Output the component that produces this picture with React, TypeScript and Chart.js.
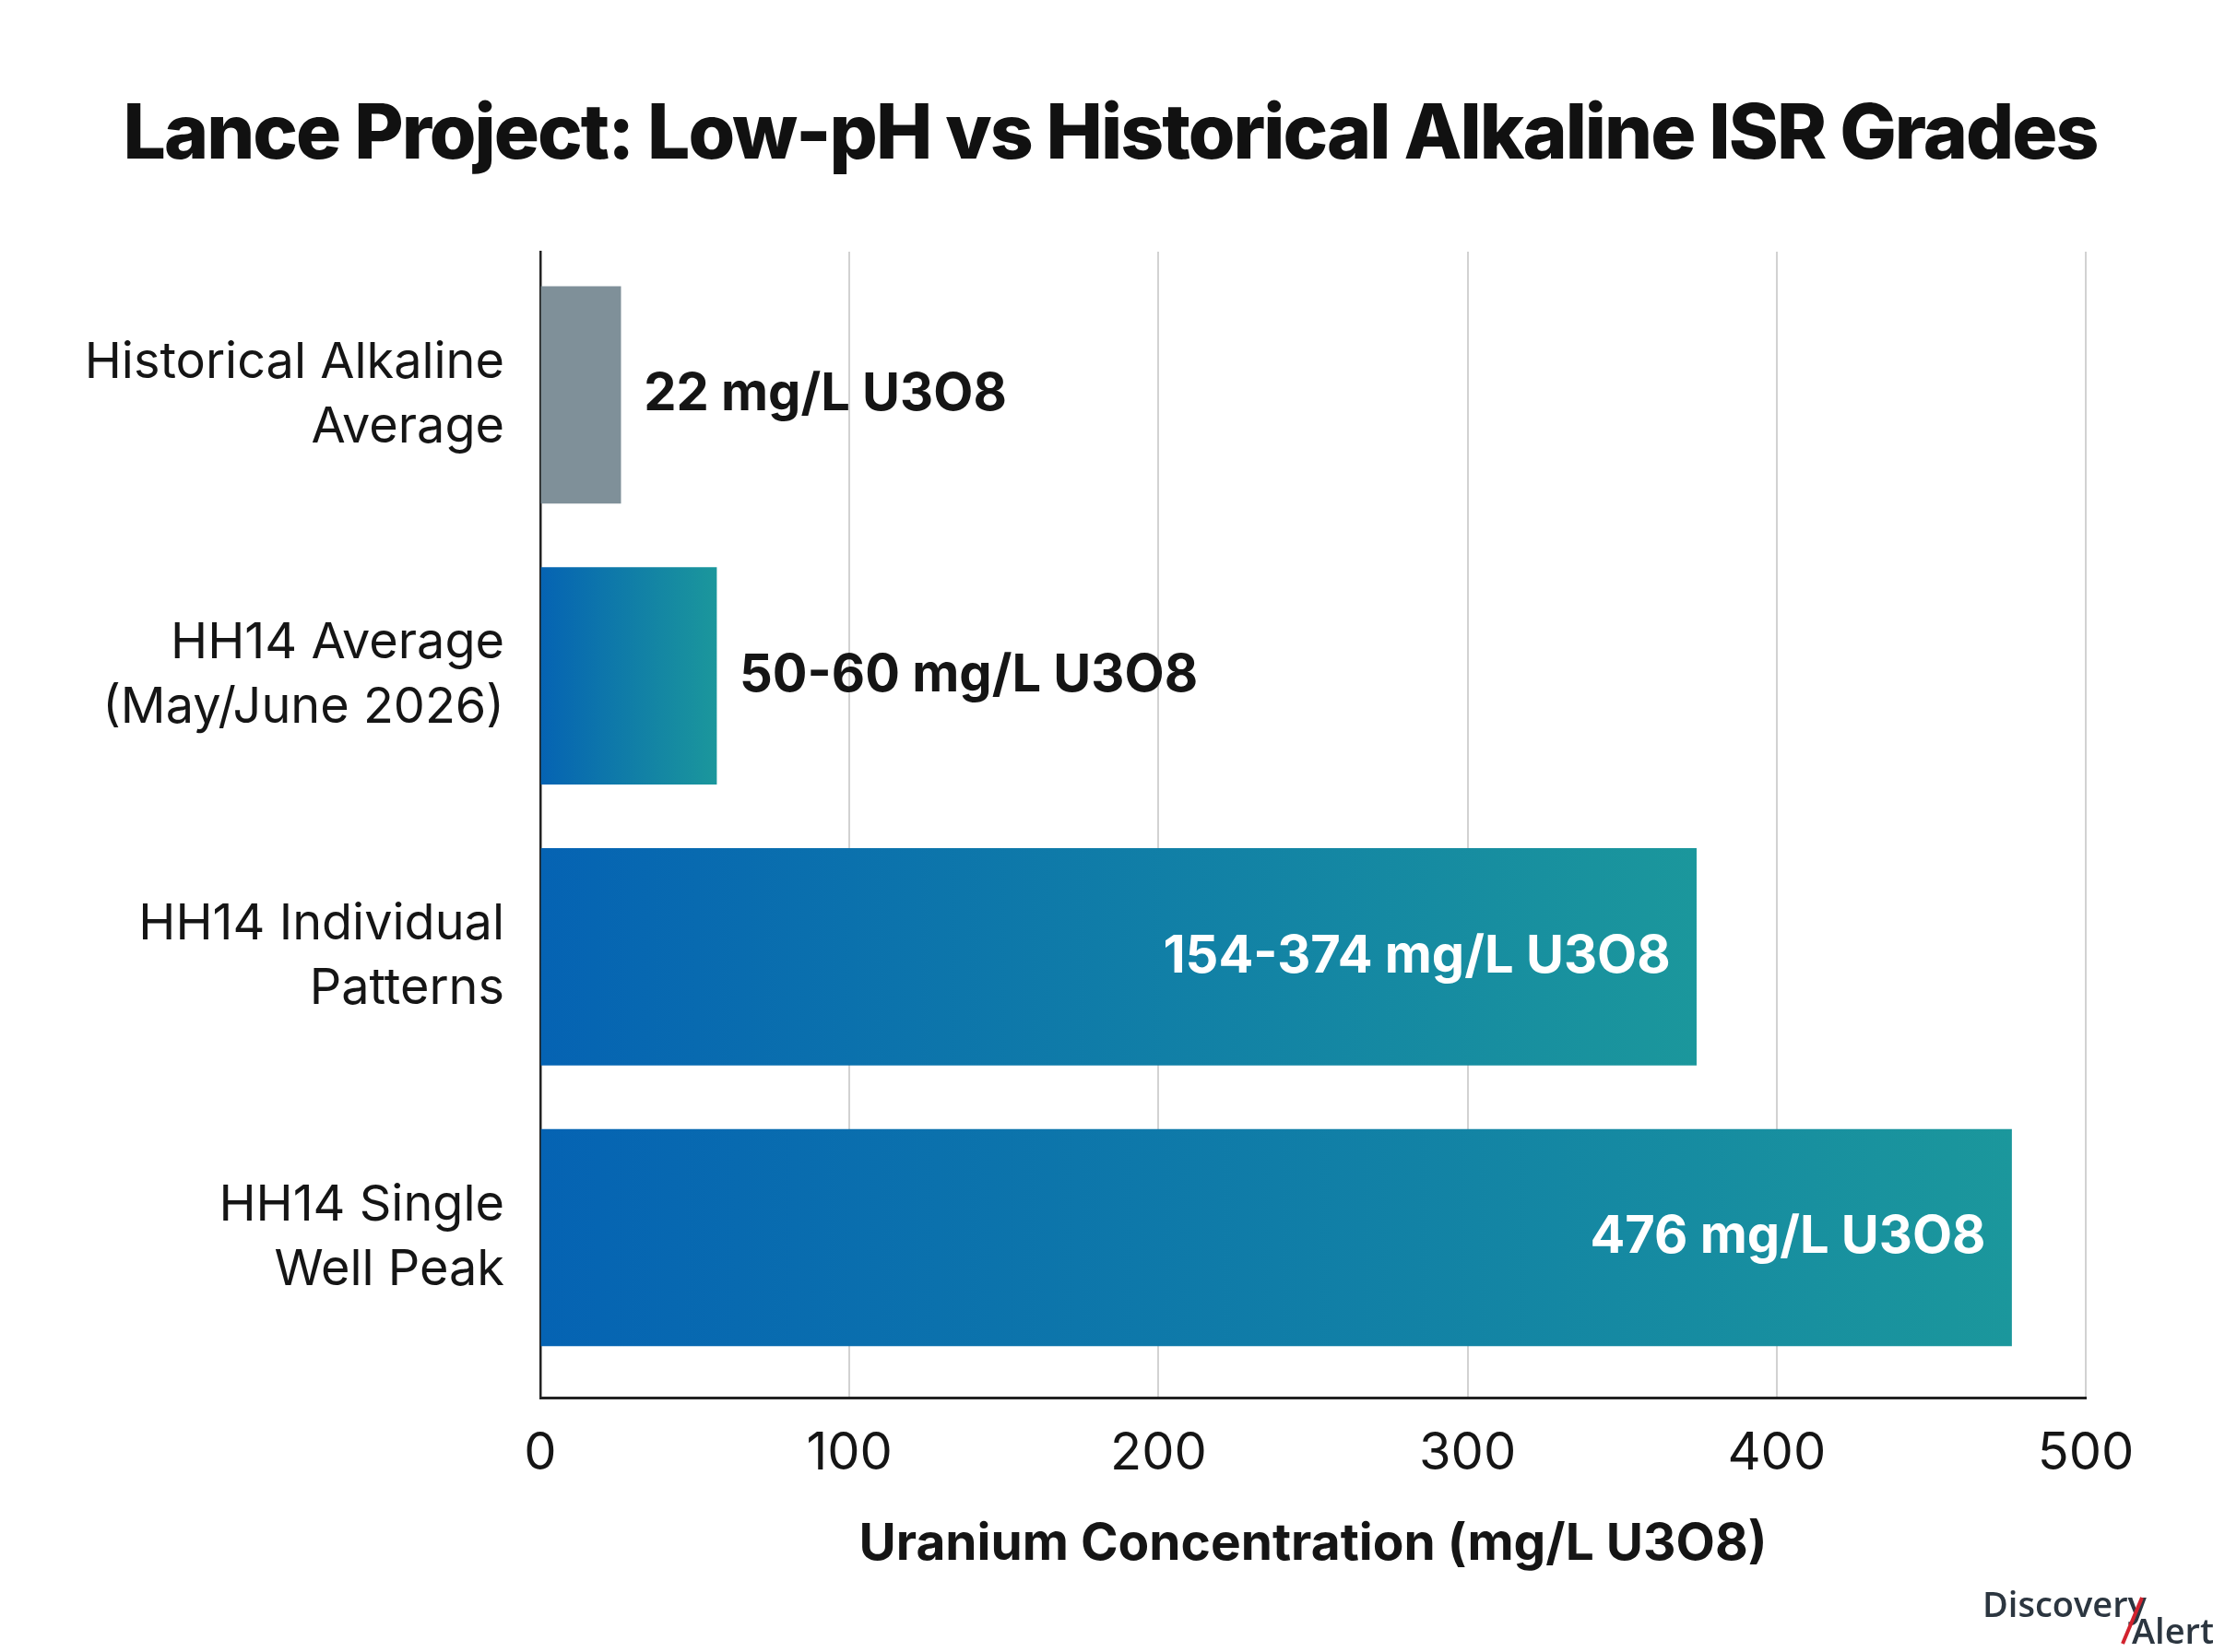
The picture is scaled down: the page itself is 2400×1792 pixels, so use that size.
import { useEffect, useRef } from 'react';
import { Chart, registerables } from 'chart.js';

Chart.register(...registerables);

const TITLE = 'Lance Project: Low-pH vs Historical Alkaline ISR Grades';
const AXIS_TITLE = 'Uranium Concentration (mg/L U3O8)';

// one entry per bar, top to bottom
const categories = [
  ['Historical Alkaline', 'Average'],
  ['HH14 Average', '(May/June 2026)'],
  ['HH14 Individual', 'Patterns'],
  ['HH14 Single', 'Well Peak'],
];
const values = [26, 57, 374, 476];
const valueLabels = ['22 mg/L U3O8', '50-60 mg/L U3O8', '154-374 mg/L U3O8', '476 mg/L U3O8'];
const xTicks = [0, 100, 200, 300, 400, 500];

const FONT = 'Inter, "Noto Sans", sans-serif';
const GRAY = '#7f9099';
const BLUE = '#0563b3';
const TEAL = '#1b979c';

// title drawn by hand so it can be tightened like the original
const titlePlugin = {
  id: 'bigTitle',
  afterDraw(chart: any) {
    const ctx = chart.ctx;
    ctx.save();
    ctx.fillStyle = '#111111';
    ctx.font = `800 82px ${FONT}`;
    (ctx as any).letterSpacing = '-2px';
    ctx.textAlign = 'center';
    ctx.textBaseline = 'alphabetic';
    ctx.fillText(TITLE, 1204, 172);
    ctx.restore();
  },
};

const valueLabelPlugin = {
  id: 'valueLabels',
  afterDatasetsDraw(chart: any) {
    const ctx = chart.ctx;
    const meta = chart.getDatasetMeta(0);
    ctx.save();
    ctx.font = `700 56px ${FONT}`;
    ctx.textBaseline = 'middle';
    meta.data.forEach((bar: any, i: number) => {
      const text = valueLabels[i];
      const w = ctx.measureText(text).width;
      const len = bar.x - bar.base;
      if (w + 60 < len) {
        ctx.fillStyle = '#ffffff';
        ctx.textAlign = 'right';
        ctx.fillText(text, bar.x - 28, bar.y);
      } else {
        ctx.fillStyle = '#151515';
        ctx.textAlign = 'left';
        ctx.fillText(text, bar.x + 25, bar.y);
      }
    });
    ctx.restore();
  },
};

const logoPlugin = {
  id: 'logo',
  afterDraw(chart: any) {
    const ctx = chart.ctx;
    ctx.save();
    ctx.fillStyle = '#2c3640';
    ctx.textBaseline = 'alphabetic';
    ctx.textAlign = 'left';
    ctx.font = `600 38px "Open Sans", sans-serif`;
    ctx.fillText('Discovery', 2150, 1754);
    ctx.fillText('Alert', 2312, 1783);
    ctx.strokeStyle = '#d2232e';
    ctx.lineWidth = 4;
    ctx.beginPath();
    ctx.moveTo(2323, 1733);
    ctx.lineTo(2302, 1783);
    ctx.stroke();
    ctx.restore();
  },
};

const App = () => {
  const canvasRef = useRef<HTMLCanvasElement | null>(null);

  useEffect(() => {
    if (!canvasRef.current) return;
    const chart = new Chart(canvasRef.current, {
      type: 'bar',
      data: {
        datasets: [
          {
            data: values.map((v, i) => ({ x: v, y: i })),
            barThickness: 235,
            borderWidth: 0,
            backgroundColor: (c: any) => {
              if (c.dataIndex === 0) return GRAY;
              const chartArea = c.chart.chartArea;
              if (!chartArea) return BLUE;
              const xs = c.chart.scales.x;
              const x0 = xs.getPixelForValue(0);
              const x1 = xs.getPixelForValue(values[c.dataIndex]);
              const g = c.chart.ctx.createLinearGradient(x0, 0, x1, 0);
              g.addColorStop(0, BLUE);
              g.addColorStop(1, TEAL);
              return g;
            },
          },
        ],
      },
      options: {
        indexAxis: 'y',
        animation: false,
        responsive: true,
        maintainAspectRatio: false,
        devicePixelRatio: 1,
        layout: { padding: { left: 0, right: 138, top: 273, bottom: 0 } },
        plugins: {
          legend: { display: false },
          tooltip: { enabled: false },
          title: { display: false },
        },
        scales: {
          x: {
            type: 'linear',
            min: 0,
            max: 500,
            afterBuildTicks: (scale: any) => {
              scale.ticks = xTicks.map((v) => ({ value: v }));
            },
            grid: { color: '#d2d2d2', lineWidth: 2, drawTicks: false },
            border: { color: '#222222', width: 3 },
            ticks: {
              color: '#151515',
              padding: 27,
              font: { family: FONT, size: 56, lineHeight: 1.2 },
            },
            title: {
              display: true,
              text: AXIS_TITLE,
              color: '#151515',
              font: { family: FONT, size: 55, weight: 'bold', lineHeight: 1.2 },
              padding: { top: 4, bottom: 84 },
            },
          },
          y: {
            type: 'linear',
            reverse: true,
            offset: false,
            bounds: 'data',
            min: -0.51,
            max: 3.572,
            afterBuildTicks: (scale: any) => {
              scale.ticks = categories.map((_, i) => ({ value: i }));
            },
            afterFit: (scale: any) => {
              scale.width = 586;
            },
            grid: { display: false, drawTicks: false, offset: false },
            border: { color: '#222222', width: 2.5 },
            ticks: {
              color: '#151515',
              padding: 39,
              font: { family: FONT, size: 54, lineHeight: 1.3 },
              callback: (v: any) => categories[v] ?? '',
            },
          },
        },
      },
      plugins: [valueLabelPlugin, titlePlugin, logoPlugin],
    } as any);

    return () => {
      chart.destroy();
    };
  }, []);

  return (
    <div style={{ position: 'absolute', left: 0, top: 0, width: 2400, height: 1792, background: '#ffffff' }}>
      <canvas ref={canvasRef}></canvas>
    </div>
  );
};

export default App;
